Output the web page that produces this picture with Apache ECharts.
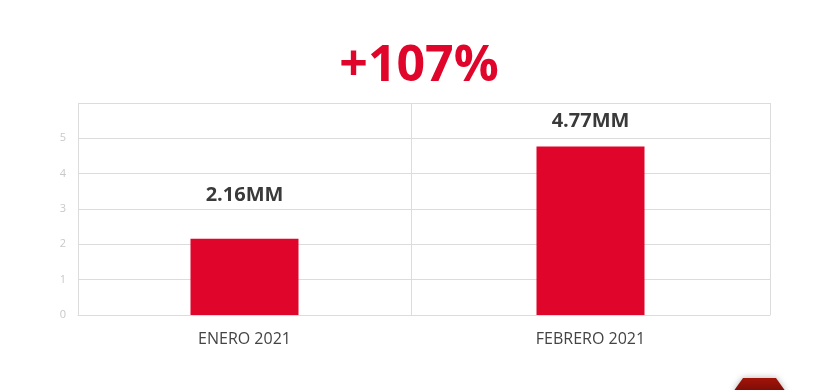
<!DOCTYPE html>
<html>
<head>
<meta charset="utf-8">
<script src="https://cdn.jsdelivr.net/npm/echarts@6/dist/echarts.min.js"></script>
<style>html,body{margin:0;padding:0;background:#fff}#c{width:838px;height:390px}</style>
</head>
<body>
<div id="c"></div>
<script>
const categories = ['ENERO 2021', 'FEBRERO 2021'];
const values = [2.16, 4.77];
const valueLabels = ['2.16MM', '4.77MM'];
const labelGaps = [33, 15];
const yTicks = [0, 1, 2, 3, 4, 5, 6];
const headline = '+107%';

const RED = '#e0052a';
const GRID = '#dcdcdc';
const chart = echarts.init(document.getElementById('c'));

const grids = [
  { left: 78, width: 333, top: 103, bottom: 75 },
  { left: 411, width: 359, top: 103, bottom: 75 }
];

const xAxes = categories.map((c, i) => ({
  type: 'category', gridIndex: i, data: [c],
  axisLine: { show: true, lineStyle: { color: GRID } },
  axisTick: { show: false },
  splitLine: { show: true, lineStyle: { color: GRID, width: 1 } },
  axisLabel: { color: '#444444', fontSize: 16, fontFamily: 'Open Sans', margin: 16 }
}));

const yAxes = categories.map((c, i) => ({
  type: 'value', gridIndex: i, min: yTicks[0], max: yTicks[yTicks.length - 1], interval: 1,
  axisLine: { show: false }, axisTick: { show: false },
  splitLine: { show: true, lineStyle: { color: GRID, width: 1 } },
  axisLabel: {
    show: i === 0, color: '#c8c8c8', fontSize: 11, fontFamily: 'Open Sans', margin: 12,
    formatter: v => (v === yTicks[yTicks.length - 1] ? '' : String(v))
  }
}));

const series = categories.map((c, i) => ({
  type: 'bar', xAxisIndex: i, yAxisIndex: i, barWidth: 108,
  itemStyle: { color: RED },
  data: [{
    value: values[i],
    label: {
      show: true, position: 'top', distance: labelGaps[i],
      formatter: valueLabels[i], color: '#3a3a3a', fontSize: 20, fontWeight: 'bold',
      fontFamily: 'Open Sans'
    }
  }]
}));

chart.setOption({
  backgroundColor: '#ffffff',
  animation: false,
  title: {
    text: headline, left: 'center', top: 37,
    textStyle: { color: RED, fontSize: 50, fontWeight: 'bold', fontFamily: 'Open Sans' }
  },
  grid: grids,
  xAxis: xAxes,
  yAxis: yAxes,
  series: series,
  graphic: [{
    type: 'polygon', silent: true,
    shape: { points: [[733, 392], [743, 378], [776, 378], [786, 392]] },
    style: {
      fill: new echarts.graphic.LinearGradient(0, 0, 0, 1, [
        { offset: 0, color: '#a3140a' }, { offset: 1, color: '#7a0c06' }
      ]),
      shadowBlur: 6, shadowColor: 'rgba(0,0,0,0.3)'
    }
  }]
});
</script>
</body>
</html>
